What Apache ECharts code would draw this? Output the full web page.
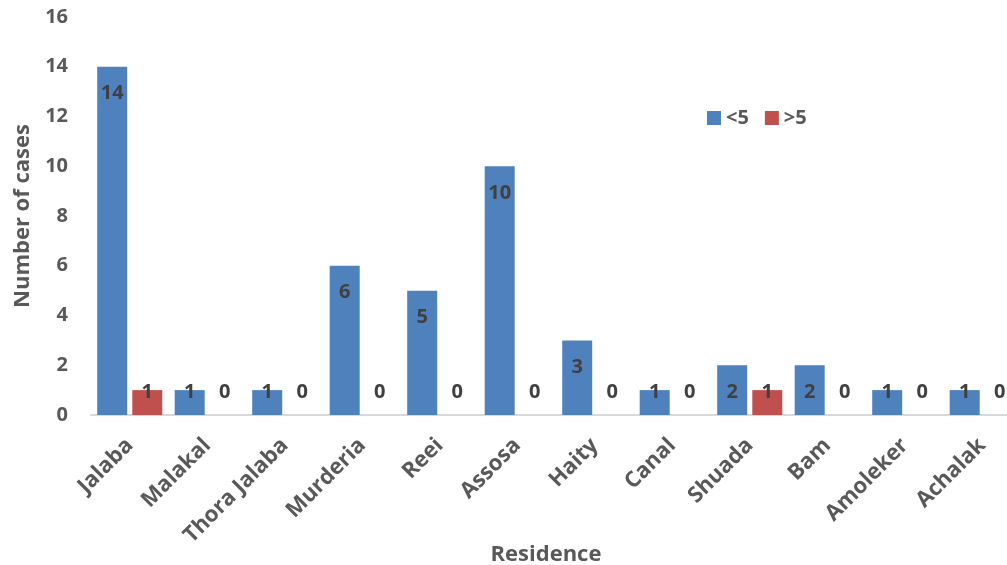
<!DOCTYPE html>
<html>
<head>
<meta charset="utf-8">
<script src="https://cdn.jsdelivr.net/npm/echarts@6/dist/echarts.min.js"></script>
<style>
  html, body { margin: 0; padding: 0; background: #fff; }
  #chart { width: 1007px; height: 565px; }
</style>
</head>
<body>
<div id="chart"></div>
<script>
// Cases per residence, split by age group
const categories = ['Jalaba', 'Malakal', 'Thora Jalaba', 'Murderia', 'Reei', 'Assosa', 'Haity', 'Canal', 'Shuada', 'Bam', 'Amoleker', 'Achalak'];
const under5 = [14, 1, 1, 6, 5, 10, 3, 1, 2, 2, 1, 1];
const over5 = [1, 0, 0, 0, 0, 0, 0, 0, 1, 0, 0, 0];
const yTicks = { min: 0, max: 16, interval: 2 };

const FONT = '"Open Sans", "Liberation Sans", sans-serif';
const labelFontSize = 20;

// Value labels sit inside near the bar top; short bars keep theirs near the base
function toItems(values) {
  return values.map(function (v) {
    if (v >= 2) {
      return { value: v, label: { position: 'insideTop', distance: 17 } };
    }
    return { value: v, label: { position: 'insideBottom', distance: 13 } };
  });
}

const labelStyle = {
  show: true,
  color: '#404040',
  fontFamily: FONT,
  fontWeight: 'bold',
  fontSize: labelFontSize
};

const chart = echarts.init(document.getElementById('chart'), null, { renderer: 'canvas' });
chart.setOption({
  animation: false,
  textStyle: { fontFamily: FONT },
  grid: { left: 91, top: 17, width: 930, bottom: 150, containLabel: false, outerBoundsMode: 'none' },
  legend: {
    left: 702,
    top: 103,
    itemWidth: 14,
    itemHeight: 14,
    itemGap: 16,
    icon: 'rect',
    textStyle: { fontFamily: FONT, fontWeight: 'bold', fontSize: 20, color: '#595959' },
    data: ['<5', '>5']
  },
  xAxis: {
    type: 'category',
    data: categories,
    name: 'Residence',
    nameLocation: 'middle',
    nameGap: 129,
    nameMoveOverlap: false,
    nameTextStyle: { fontFamily: FONT, fontWeight: 'bold', fontSize: 22, color: '#595959', padding: [0, 20, 0, 0] },
    axisLine: { lineStyle: { color: '#D9D9D9', width: 2 } },
    axisTick: { show: false },
    axisLabel: {
      rotate: 45,
      margin: 27,
      interval: 0,
      fontFamily: FONT,
      fontWeight: 'bold',
      fontSize: 22,
      color: '#595959'
    }
  },
  yAxis: {
    type: 'value',
    min: yTicks.min,
    max: yTicks.max,
    interval: yTicks.interval,
    name: 'Number of cases',
    nameLocation: 'middle',
    nameGap: 57,
    nameMoveOverlap: false,
    nameTextStyle: { fontFamily: FONT, fontWeight: 'bold', fontSize: 22, color: '#595959' },
    axisLine: { show: false },
    axisTick: { show: false },
    splitLine: { show: false },
    axisLabel: {
      margin: 23,
      fontFamily: FONT,
      fontWeight: 'bold',
      fontSize: 20,
      color: '#595959'
    }
  },
  series: [
    {
      name: '<5',
      type: 'bar',
      data: toItems(under5),
      barGap: '17%',
      barCategoryGap: '16%',
      itemStyle: { color: '#4F81BD' },
      label: labelStyle
    },
    {
      name: '>5',
      type: 'bar',
      data: toItems(over5),
      barGap: '17%',
      barCategoryGap: '16%',
      itemStyle: { color: '#C0504D' },
      label: labelStyle
    }
  ]
});
</script>
</body>
</html>
